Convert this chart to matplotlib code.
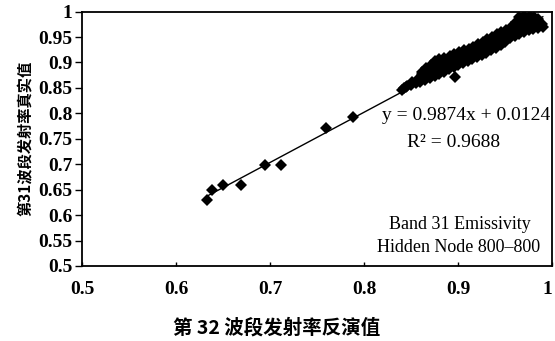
import matplotlib
matplotlib.use("Agg")
import matplotlib.pyplot as plt
import numpy as np

# retrieved band 32 emissivity vs. measured band 31 emissivity
x_low = [0.633, 0.638, 0.650, 0.669, 0.694, 0.711, 0.759, 0.788, 0.862, 0.897]
y_low = [0.629, 0.649, 0.659, 0.659, 0.698, 0.698, 0.771, 0.792, 0.881, 0.871]

x_dense = [
    0.840, 0.842, 0.845, 0.846, 0.850, 0.851, 0.855, 0.856,
    0.859, 0.861, 0.862,
    0.865, 0.864, 0.866, 0.866,
    0.870, 0.871, 0.869, 0.871,
    0.875, 0.876, 0.874, 0.876, 0.875,
    0.880, 0.881, 0.879, 0.881, 0.880,
    0.885, 0.886, 0.884, 0.886, 0.885,
    0.890, 0.891, 0.889, 0.890, 0.891,
    0.895, 0.896, 0.894, 0.896, 0.895,
    0.900, 0.901, 0.899, 0.900, 0.901,
    0.905, 0.906, 0.904, 0.905, 0.906,
    0.910, 0.911, 0.909, 0.910, 0.911,
    0.915, 0.916, 0.914, 0.915, 0.916,
    0.920, 0.921, 0.919, 0.920, 0.921,
    0.925, 0.926, 0.924, 0.925, 0.926,
    0.930, 0.931, 0.929, 0.930, 0.931,
    0.935, 0.936, 0.934, 0.935, 0.936,
    0.940, 0.941, 0.939, 0.940, 0.941,
    0.945, 0.946, 0.944, 0.945, 0.946,
    0.950, 0.951, 0.949, 0.950, 0.951,
    0.955, 0.956, 0.954, 0.955, 0.956,
    0.960, 0.961, 0.959, 0.960, 0.961,
    0.965, 0.966, 0.964, 0.965, 0.966, 0.965,
    0.970, 0.971, 0.969, 0.970, 0.971, 0.970,
    0.975, 0.976, 0.974, 0.975, 0.976,
    0.980, 0.981, 0.979, 0.980, 0.981,
    0.985, 0.986, 0.984, 0.985,
    0.990, 0.989,
]
y_dense = [
    0.846, 0.849, 0.851, 0.854, 0.855, 0.861, 0.859, 0.866,
    0.862, 0.870, 0.878,
    0.866, 0.874, 0.882, 0.889,
    0.870, 0.878, 0.886, 0.895,
    0.874, 0.882, 0.890, 0.898, 0.902,
    0.878, 0.886, 0.894, 0.901, 0.906,
    0.882, 0.890, 0.898, 0.905, 0.909,
    0.887, 0.894, 0.902, 0.909, 0.912,
    0.891, 0.899, 0.906, 0.913, 0.916,
    0.895, 0.903, 0.910, 0.917, 0.921,
    0.898, 0.906, 0.914, 0.920, 0.924,
    0.902, 0.910, 0.917, 0.923, 0.926,
    0.906, 0.914, 0.921, 0.927, 0.930,
    0.911, 0.918, 0.925, 0.932, 0.936,
    0.915, 0.923, 0.930, 0.937, 0.941,
    0.919, 0.927, 0.934, 0.941, 0.946,
    0.924, 0.932, 0.939, 0.946, 0.951,
    0.929, 0.937, 0.944, 0.951, 0.956,
    0.934, 0.942, 0.949, 0.955, 0.960,
    0.941, 0.948, 0.954, 0.960, 0.964,
    0.948, 0.955, 0.961, 0.966, 0.970,
    0.952, 0.959, 0.966, 0.973, 0.979,
    0.955, 0.963, 0.971, 0.978, 0.985, 0.990,
    0.959, 0.967, 0.975, 0.982, 0.988, 0.992,
    0.963, 0.970, 0.978, 0.985, 0.991,
    0.966, 0.973, 0.980, 0.986, 0.990,
    0.968, 0.975, 0.982, 0.986,
    0.970, 0.976,
]

slope = 0.9874
intercept = 0.0124
r2 = 0.9688

x_all = np.array(x_low + x_dense)
y_all = np.array(y_low + y_dense)

serif = ["Liberation Serif", "DejaVu Serif"]
cjk = ["Noto Sans CJK SC", "DejaVu Sans"]

fig = plt.figure(figsize=(5.55, 3.41), dpi=100)
ax = fig.add_axes([0.148, 0.22, 0.847, 0.746])

ax.plot(x_all, y_all, "D", color="black", markersize=6.5, markeredgewidth=0)

xl = np.array([x_all.min(), x_all.max()])
ax.plot(xl, slope * xl + intercept, color="black", linewidth=1.0)

xt = np.arange(0.5, 1.001, 0.1)
yt = np.arange(0.5, 1.001, 0.05)
ax.set_xlim(0.5, 1.0)
ax.set_ylim(0.5, 1.0)
ax.set_xticks(xt)
ax.set_yticks(yt)
ax.set_xticklabels(["%g" % round(v, 2) for v in xt])
ax.set_yticklabels(["%g" % round(v, 2) for v in yt])

for lab in ax.get_xticklabels() + ax.get_yticklabels():
    lab.set_family(serif)
    lab.set_fontweight("bold")
    lab.set_fontsize(14)
ax.get_xticklabels()[-1].set_horizontalalignment("right")

ax.tick_params(axis="y", direction="out", length=5, width=1, pad=2)
ax.tick_params(axis="x", direction="in", length=3, width=1, pad=11)
for s in ax.spines.values():
    s.set_linewidth(1.3)

ax.set_xlabel("第 32 波段发射率反演值", family=cjk, fontweight="bold",
              fontsize=14)
ax.xaxis.set_label_coords(0.413, -0.205)
ax.set_ylabel("第31波段发射率真实值", family=cjk, fontweight="bold",
              fontsize=11, labelpad=3)

ax.text(0.995, 0.592, "y = %.4fx + %.4f" % (slope, intercept), ha="right",
        va="center", family=serif, fontsize=14, transform=ax.transAxes)
ax.text(0.79, 0.486, "R\u00b2 = %.4f" % r2, ha="center", va="center",
        family=serif, fontsize=14, transform=ax.transAxes)
ax.text(0.804, 0.165, "Band 31 Emissivity", ha="center", va="center",
        family=serif, fontsize=13, transform=ax.transAxes)
ax.text(0.80, 0.071, "Hidden Node 800\u2013800", ha="center", va="center",
        family=serif, fontsize=13, transform=ax.transAxes)

fig.savefig("out.png", dpi=100)
